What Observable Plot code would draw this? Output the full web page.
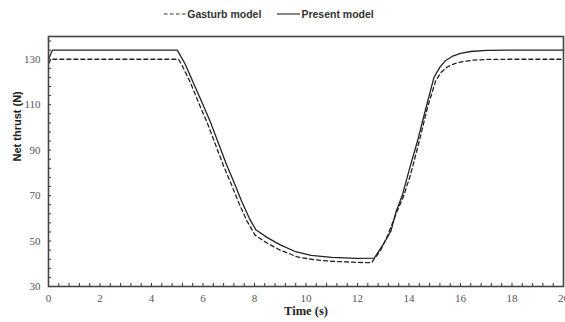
<!DOCTYPE html>
<html>
<head>
<meta charset="utf-8">
<script src="https://cdn.jsdelivr.net/npm/d3@7"></script>
<script src="https://cdn.jsdelivr.net/npm/@observablehq/plot@0.6"></script>
<style>
  body { margin: 0; background: #fff; }
  #legend { height: 28px; display: flex; align-items: center; justify-content: center; padding-right: 27px;
    font: bold 10.5px "Liberation Sans", Arial, sans-serif; color: #333; }
  #legend .item { display: flex; align-items: center; margin: 0 8px; }
  #legend svg { margin-right: 1px; }
  #chart svg { display: block; }
  #chart .serif, #chart .serif text { font-family: "Liberation Serif", "Times New Roman", serif !important; }
  #chart .sans, #chart .sans text { font-family: "Liberation Sans", Arial, sans-serif !important; }
</style>
</head>
<body>
<div id="legend">
  <span class="item"><svg width="22" height="8"><line x1="0" y1="4" x2="22" y2="4" stroke="#333" stroke-width="1.2" stroke-dasharray="3.5,2.5"/></svg>Gasturb model</span>
  <span class="item"><svg width="23" height="8"><line x1="0" y1="4" x2="23" y2="4" stroke="#333" stroke-width="1.2"/></svg>Present model</span>
</div>
<div id="chart"></div>
<script>
const gasturbTime = [0, 0.1, 5.05, 5.2, 5.5, 5.9, 6.2, 6.5, 6.8, 7.1, 7.4, 7.7, 8.02, 8.5, 9.0, 9.67, 10.3, 11, 12, 12.55, 12.9, 13.17, 13.55, 13.8, 14.07, 14.4, 14.72, 15.04, 15.25, 15.5, 15.8, 16.1, 16.5, 17, 18, 20];
const gasturbThrust = [128, 130, 130, 127, 120, 109, 101, 92, 83, 75, 66.5, 59, 52.6, 49, 46, 43, 41.8, 41.1, 40.6, 40.5, 46, 52.4, 63.4, 70, 79.6, 94, 108.9, 120.6, 124.3, 126.7, 128.2, 129, 129.6, 129.9, 130, 130];
const presentTime = [0, 0.15, 5.0, 5.3, 5.65, 6.0, 6.3, 6.6, 6.9, 7.2, 7.5, 7.8, 8.05, 8.5, 9.0, 9.6, 10.2, 11, 12, 12.65, 13.0, 13.3, 13.5, 13.75, 14.0, 14.33, 14.6, 14.97, 15.2, 15.4, 15.7, 16.0, 16.4, 17, 18, 20];
const presentThrust = [130, 134, 134, 128, 119, 110, 102, 93, 84, 76, 67.5, 60, 55, 51.5, 48.3, 45.3, 43.7, 42.8, 42.4, 42.5, 48.5, 54.5, 63, 70.5, 81, 94, 106, 122, 126.5, 129.2, 131.4, 132.6, 133.4, 133.9, 134, 134];
const xTickLabels = [0, 2, 4, 6, 8, 10, 12, 14, 16, 18, 20];
const yTickLabels = [30, 50, 70, 90, 110, 130];
const xMinorTicks = d3.range(0, 20.001, 0.4).map(v => +v.toFixed(1));
const yMinorTicks = d3.range(30, 140.001, 4);

const gasturb = gasturbTime.map((t, i) => ({t, v: gasturbThrust[i]}));
const present = presentTime.map((t, i) => ({t, v: presentThrust[i]}));

const W = 565, H = 294, mT = 8, mB = 36, mL = 48, mR = 2;
const frameH = H - mT - mB, frameW = W - mL - mR;
const serif = "Liberation Serif";

const plot = Plot.plot({
  width: W, height: H,
  marginTop: mT, marginBottom: mB, marginLeft: mL, marginRight: mR,
  style: {fontSize: "11px", color: "#444", background: "#fff"},
  x: {domain: [0, 20]},
  y: {domain: [30, 140]},
  marks: [
    Plot.tickX(xMinorTicks, {x: d => d, insetTop: frameH - 3, stroke: "#333", strokeWidth: 1}),
    Plot.tickY(yMinorTicks, {y: d => d, insetRight: frameW - 3, stroke: "#333", strokeWidth: 1}),
    Plot.axisX(xTickLabels, {tickSize: 0, tickPadding: 8, label: null, fill: "#555", fontFamily: serif, fontSize: 11, className: "serif"}),
    Plot.axisY(yTickLabels, {tickSize: 0, tickPadding: 8, label: null, fill: "#555", fontFamily: serif, fontSize: 11, className: "serif"}),
    Plot.line(gasturb, {x: "t", y: "v", stroke: "#222", strokeWidth: 1.3, strokeDasharray: "4,3"}),
    Plot.line(present, {x: "t", y: "v", stroke: "#222", strokeWidth: 1.3}),
    Plot.frame({stroke: "#444", strokeWidth: 1.6}),
    Plot.text(["Net thrust (N)"], {frameAnchor: "left", dx: -31, rotate: -90, fontFamily: "Liberation Sans", fontWeight: "bold", fontSize: 11, fill: "#222", className: "sans"}),
    Plot.text(["Time (s)"], {frameAnchor: "bottom", dy: 28, fontFamily: serif, fontWeight: "bold", fontSize: 12.5, fill: "#222", className: "serif"})
  ]
});
document.getElementById("chart").appendChild(plot);
</script>
</body>
</html>
